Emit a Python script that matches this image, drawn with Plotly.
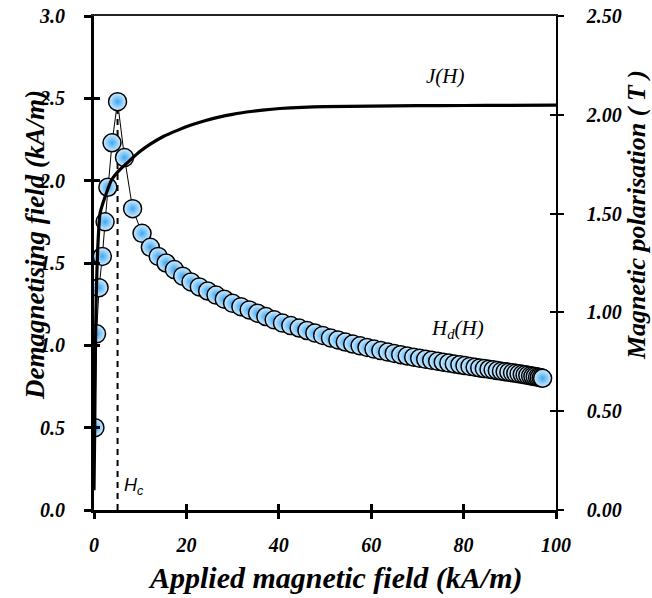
import plotly.graph_objects as go

# Applied field H (kA/m) and demagnetising field Hd (kA/m)
h_applied = [0.2, 0.55, 1.1, 1.8, 2.4, 3.0, 3.9, 5.1, 6.6, 8.35,
             10.4, 12.2, 13.9, 15.6, 17.4, 19.2, 21.0, 22.8, 24.6, 26.4,
             28.2, 30.0, 31.8, 33.6, 35.4, 37.2, 39.0, 40.8, 42.6, 44.4,
             46.1, 47.8, 49.5, 51.2, 52.8, 54.4, 56.0, 57.6, 59.1, 60.6,
             62.1, 63.6, 65.0, 66.4, 67.8, 69.2, 70.5, 71.8, 73.1, 74.4,
             75.6, 76.8, 78.0, 79.2, 80.3, 81.4, 82.5, 83.5, 84.5, 85.5,
             86.4, 87.3, 88.2, 89.0, 89.8, 90.6, 91.3, 92.0, 92.7, 93.3,
             93.9, 94.5, 95.0, 95.5, 96.0, 96.4, 96.8, 97.1]
h_demag = [0.50, 1.07, 1.35, 1.54, 1.75, 1.96, 2.23, 2.48, 2.14, 1.83,
           1.68, 1.595, 1.54, 1.50, 1.46, 1.42, 1.385, 1.355, 1.33, 1.305,
           1.28, 1.255, 1.235, 1.215, 1.195, 1.175, 1.155, 1.135, 1.12, 1.105,
           1.09, 1.075, 1.06, 1.045, 1.033, 1.02, 1.008, 0.997, 0.987, 0.977,
           0.968, 0.959, 0.951, 0.943, 0.935, 0.928, 0.921, 0.915, 0.909, 0.903,
           0.897, 0.892, 0.887, 0.882, 0.877, 0.872, 0.867, 0.863, 0.859, 0.855,
           0.851, 0.847, 0.843, 0.840, 0.837, 0.833, 0.830, 0.827, 0.824, 0.821,
           0.818, 0.815, 0.812, 0.810, 0.807, 0.805, 0.803, 0.800]

# Magnetic polarisation J (T) vs applied field
j_field = [0.0, 0.15, 0.3, 0.5, 0.8, 1.3, 2.4, 3.8, 5.5, 7.8, 10.0, 12.1, 15.0,
           17.9, 21.0, 24.0, 27.0, 30.0, 33.0, 36.5, 40.2, 45, 50, 60, 70, 80, 90, 100]
j_pol = [0.10, 0.40, 0.80, 1.10, 1.32, 1.50, 1.585, 1.67, 1.72, 1.77, 1.815, 1.85, 1.89,
         1.92, 1.948, 1.97, 1.988, 2.002, 2.014, 2.024, 2.032, 2.038, 2.041, 2.044,
         2.046, 2.047, 2.048, 2.049]

# Coercive field
h_c = [5.1, 5.1]
h_c_span = [0.0, 2.46]

x_ticks = [0, 20, 40, 60, 80, 100]
y_ticks = [0.0, 0.5, 1.0, 1.5, 2.0, 2.5, 3.0]
y2_ticks = [0.0, 0.5, 1.0, 1.5, 2.0, 2.5]

SERIF = "Liberation Serif"
tickfont = dict(family=SERIF, size=20, color="black", weight="bold", style="italic")

fig = go.Figure()

fig.add_trace(go.Scatter(
    x=h_c, y=h_c_span, mode="lines",
    line=dict(color="black", width=2, dash="6px,5px"),
    hoverinfo="skip", showlegend=False))

fig.add_trace(go.Scatter(
    x=h_applied, y=h_demag, mode="lines+markers",
    line=dict(color="black", width=1),
    marker=dict(size=18, color="#d4eeff",
                gradient=dict(type="radial", color="#3fa8f2"),
                line=dict(color="black", width=1.5)),
    showlegend=False))

fig.add_trace(go.Scatter(
    x=j_field, y=j_pol, mode="lines", yaxis="y2",
    line=dict(color="black", width=3.2, shape="spline", smoothing=0.5),
    showlegend=False))

# dummy traces so the tick-only / frame overlay axes get drawn
fig.add_trace(go.Scatter(x=[None], y=[None], xaxis="x2", yaxis="y3", showlegend=False, hoverinfo="skip"))
fig.add_trace(go.Scatter(x=[None], y=[None], xaxis="x2", yaxis="y4", showlegend=False, hoverinfo="skip"))
fig.add_trace(go.Scatter(x=[None], y=[None], xaxis="x3", yaxis="y3", showlegend=False, hoverinfo="skip"))

fig.update_layout(
    width=652, height=598,
    margin=dict(l=94, r=96, t=16, b=88, autoexpand=False),
    paper_bgcolor="white", plot_bgcolor="white",
    xaxis=dict(range=[0, 100], tickvals=x_ticks, ticktext=[str(v) for v in x_ticks],
               showgrid=False, zeroline=False, showline=True, linecolor="black",
               linewidth=3, ticks="outside", ticklen=6, tickwidth=3,
               tickcolor="black", tickfont=tickfont, ticklabelstandoff=9,
               automargin=False),
    xaxis2=dict(range=[0, 100], overlaying="x", anchor="y", side="bottom",
                tickvals=x_ticks, showticklabels=False, showgrid=False,
                zeroline=False, showline=False, ticks="inside", ticklen=6,
                tickwidth=3, tickcolor="black"),
    xaxis3=dict(range=[0, 100], overlaying="x", anchor="y", side="top",
                showticklabels=False, showgrid=False, zeroline=False,
                showline=True, linecolor="#222222", linewidth=2.2, ticks=""),
    yaxis=dict(range=[0, 3.0], tickvals=y_ticks, ticktext=[f"{v:.1f}" for v in y_ticks],
               showgrid=False, zeroline=False, showline=True, linecolor="black",
               linewidth=3, ticks="outside", ticklen=7, tickwidth=3,
               tickcolor="black", tickfont=tickfont, ticklabelstandoff=15,
               automargin=False),
    yaxis2=dict(range=[0, 2.5], overlaying="y", side="right", anchor="x",
                tickvals=y2_ticks, ticktext=[f"{v:.2f}" for v in y2_ticks],
                showgrid=False, zeroline=False, showline=True, linecolor="black",
                linewidth=1.5, ticks="outside", ticklen=6, tickwidth=1.5,
                tickcolor="black", tickfont=tickfont, ticklabelstandoff=19,
                automargin=False),
    yaxis3=dict(range=[0, 3.0], overlaying="y", side="left", anchor="x",
                tickvals=y_ticks, showticklabels=False, showgrid=False,
                zeroline=False, showline=False, ticks="inside", ticklen=6,
                tickwidth=3, tickcolor="black"),
    yaxis4=dict(range=[0, 2.5], overlaying="y", side="right", anchor="x",
                tickvals=y2_ticks, showticklabels=False, showgrid=False,
                zeroline=False, showline=False, ticks="inside", ticklen=6,
                tickwidth=1.5, tickcolor="black"),
    showlegend=False,
)

fig.add_annotation(text="Applied magnetic field (kA/m)", xref="paper", yref="paper",
                   x=0.522, y=-0.138, showarrow=False,
                   font=dict(family=SERIF, size=30, color="black", weight="bold", style="italic"),
                   xanchor="center", yanchor="middle")
fig.add_annotation(text="Demagnetising field (kA/m)", xref="paper", yref="paper",
                   x=-0.128, y=0.536, showarrow=False,
                   font=dict(family=SERIF, size=27, color="black", weight="bold", style="italic"),
                   textangle=-90, xanchor="center", yanchor="middle")
fig.add_annotation(text="Magnetic polarisation ( T )", xref="paper", yref="paper",
                   x=1.173, y=0.597, showarrow=False,
                   font=dict(family=SERIF, size=26, color="black", weight="bold", style="italic"),
                   textangle=-90, xanchor="center", yanchor="middle")

label_font = dict(family=SERIF, size=21, color="black", style="italic")
fig.add_annotation(text="J(H)", x=76, y=2.195, yref="y2", xref="x", showarrow=False,
                   font=label_font)
fig.add_annotation(text="H<sub>d</sub>(H)", x=78.6, y=1.10, xref="x", yref="y",
                   showarrow=False, font=label_font)
fig.add_annotation(text="H<sub>c</sub>", x=h_c[0] + 1.0, y=0.14, xref="x", yref="y",
                   showarrow=False, xanchor="left",
                   font=dict(family="Liberation Sans", size=18, color="black", style="italic"))

fig.write_html("out.html", post_script="document.body.style.margin='0';",
               config={"displayModeBar": False})
